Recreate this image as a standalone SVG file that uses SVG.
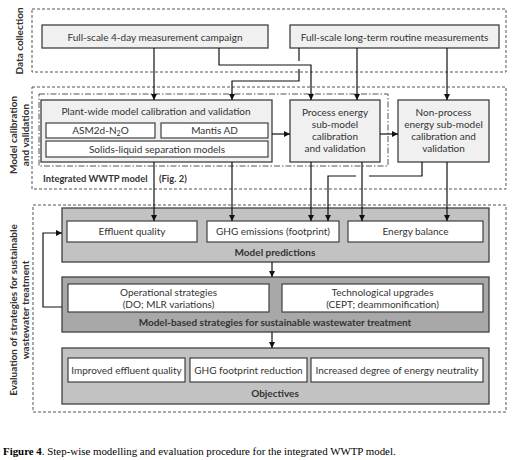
<svg xmlns="http://www.w3.org/2000/svg" width="512" height="460" viewBox="0 0 512 460">
<style>
text{font-family:Lato,"Open Sans","Liberation Sans",sans-serif;font-size:10px;fill:#333;}
.b{font-weight:bold;}
.c{text-anchor:middle;}
.dash{fill:none;stroke:#555;stroke-width:1;stroke-dasharray:3,2;}
.dd{fill:none;stroke:#555;stroke-width:1;stroke-dasharray:6,2,1.5,2;}
.lt{fill:#f0f0f0;stroke:#404040;stroke-width:1.3;}
.wh{fill:#fff;stroke:#404040;stroke-width:1.2;}
.g1{fill:#c2c2c2;stroke:#404040;stroke-width:1.3;}
.g2{fill:#a8a8a8;stroke:#404040;stroke-width:1.3;}
.ln{fill:none;stroke:#111;stroke-width:1.2;}
.ar{marker-end:url(#ah);}
.cap{font-family:"Liberation Serif",serif;font-size:10.9px;fill:#000;}
</style>
<defs>
<marker id="ah" viewBox="0 0 8 8" refX="8" refY="4" markerWidth="6" markerHeight="6" markerUnits="userSpaceOnUse" orient="auto">
<path d="M0,0 L8,4 L0,8 z" fill="#111"/>
</marker>
</defs>
<rect width="512" height="460" fill="#fff"/>

<g id="frames">
<rect class="dash" x="32" y="9" width="474" height="63"/>
<rect class="dash" x="32" y="87" width="474" height="102"/>
<rect class="dash" x="33" y="205" width="473" height="207"/>
<rect class="dd" x="39" y="94" width="349" height="72"/>
<text class="b c" transform="translate(23,41) rotate(-90)">Data collection</text>
<text class="b c" transform="translate(17,135) rotate(-90)">Model calibration</text>
<text class="b c" transform="translate(29,135) rotate(-90)">and validation</text>
<text class="b c" transform="translate(17,310) rotate(-90)">Evaluation of strategies for sustainable</text>
<text class="b c" transform="translate(29,310) rotate(-90)">wastewater treatment</text>
<text class="b" x="43" y="182" style="font-size:9.4px">Integrated WWTP model <tspan x="159">(Fig. 2)</tspan></text>
</g>

<g id="campaign">
<rect class="lt" x="42" y="25" width="226" height="23"/>
<text class="c" x="155" y="40.5">Full-scale 4-day measurement campaign</text>
</g>
<g id="routine">
<rect class="lt" x="290" y="25" width="209" height="23"/>
<text class="c" x="394.5" y="40.5">Full-scale long-term routine measurements</text>
</g>

<g id="plantwide">
<rect class="lt" x="41" y="100" width="231" height="62"/>
<text class="c" x="156" y="115">Plant-wide model calibration and validation</text>
<rect class="wh" x="46" y="123" width="109" height="15"/>
<text class="c" x="100.5" y="134">ASM2d-N<tspan font-size="7" dy="2">2</tspan><tspan dy="-2">O</tspan></text>
<rect class="wh" x="161" y="123" width="107" height="15"/>
<text class="c" x="214.5" y="134">Mantis AD</text>
<rect class="wh" x="46" y="141" width="222" height="16"/>
<text class="c" x="157" y="152.5">Solids-liquid separation models</text>
</g>

<g id="process">
<rect class="lt" x="290" y="100" width="90" height="62"/>
<text class="c" x="335" y="116">Process energy</text>
<text class="c" x="335" y="128">sub-model</text>
<text class="c" x="335" y="140">calibration</text>
<text class="c" x="335" y="152">and validation</text>
</g>

<g id="nonprocess">
<rect class="lt" x="398" y="100" width="91" height="62"/>
<text class="c" x="443.5" y="116">Non-process</text>
<text class="c" x="443.5" y="128">energy sub-model</text>
<text class="c" x="443.5" y="140">calibration and</text>
<text class="c" x="443.5" y="152">validation</text>
</g>

<g id="predictions">
<rect class="g1" x="62" y="208" width="427" height="54"/>
<rect class="wh" x="67" y="221" width="130" height="21"/>
<text class="c" x="132" y="235">Effluent quality</text>
<rect class="wh" x="207" y="221" width="132" height="21"/>
<text class="c" x="273" y="235">GHG emissions (footprint)</text>
<rect class="wh" x="348" y="221" width="135" height="21"/>
<text class="c" x="415.5" y="235">Energy balance</text>
<text class="b c" x="275" y="256">Model predictions</text>
</g>

<g id="strategies">
<rect class="g2" x="62" y="277" width="427" height="55"/>
<rect class="wh" x="68" y="284" width="201" height="28"/>
<text class="c" x="168.5" y="296">Operational strategies</text>
<text class="c" x="168.5" y="308">(DO; MLR variations)</text>
<rect class="wh" x="282" y="284" width="201" height="28"/>
<text class="c" x="382.5" y="296">Technological upgrades</text>
<text class="c" x="382.5" y="308">(CEPT; deammonification)</text>
<text class="b c" x="275" y="325.5">Model-based strategies for sustainable wastewater treatment</text>
</g>

<g id="objectives">
<rect class="g1" x="62" y="348" width="427" height="56"/>
<rect class="wh" x="68" y="358" width="117" height="24"/>
<text class="c" x="126.5" y="373.5">Improved effluent quality</text>
<rect class="wh" x="190" y="358" width="117" height="24"/>
<text class="c" x="248.5" y="373.5">GHG footprint reduction</text>
<rect class="wh" x="311" y="358" width="172" height="24"/>
<text class="c" x="397" y="373.5">Increased degree of energy neutrality</text>
<text class="b c" x="275" y="396.5">Objectives</text>
</g>

<g id="connectors">
<path class="ln ar" d="M154,48 V100"/>
<path class="ln ar" d="M219,48 V65 H311 V100"/>
<path class="ln" d="M299,48 V61"/>
<path class="ln ar" d="M299,69 V81 H232 V100"/>
<path class="ln ar" d="M357,48 V100"/>
<path class="ln ar" d="M447,48 V100"/>
<path class="ln ar" d="M272,134 H290"/>
<path class="ln ar" d="M380,134 H398"/>
<path class="ln ar" d="M154,162 V221"/>
<path class="ln ar" d="M232,162 V221"/>
<path class="ln ar" d="M311,162 V221"/>
<path class="ln ar" d="M362,162 V221"/>
<path class="ln" d="M422,162 V176 H369"/>
<path class="ln ar" d="M356,176 H328 V221"/>
<path class="ln ar" d="M447,162 V221"/>
<path class="ln ar" d="M272,262 V277"/>
<path class="ln ar" d="M272,332 V348"/>
<path class="ln ar" d="M62,307 H43 V233 H62"/>
</g>

<text class="cap" x="3" y="455"><tspan font-weight="bold">Figure 4</tspan>. Step-wise modelling and evaluation procedure for the integrated WWTP model.</text>
</svg>
